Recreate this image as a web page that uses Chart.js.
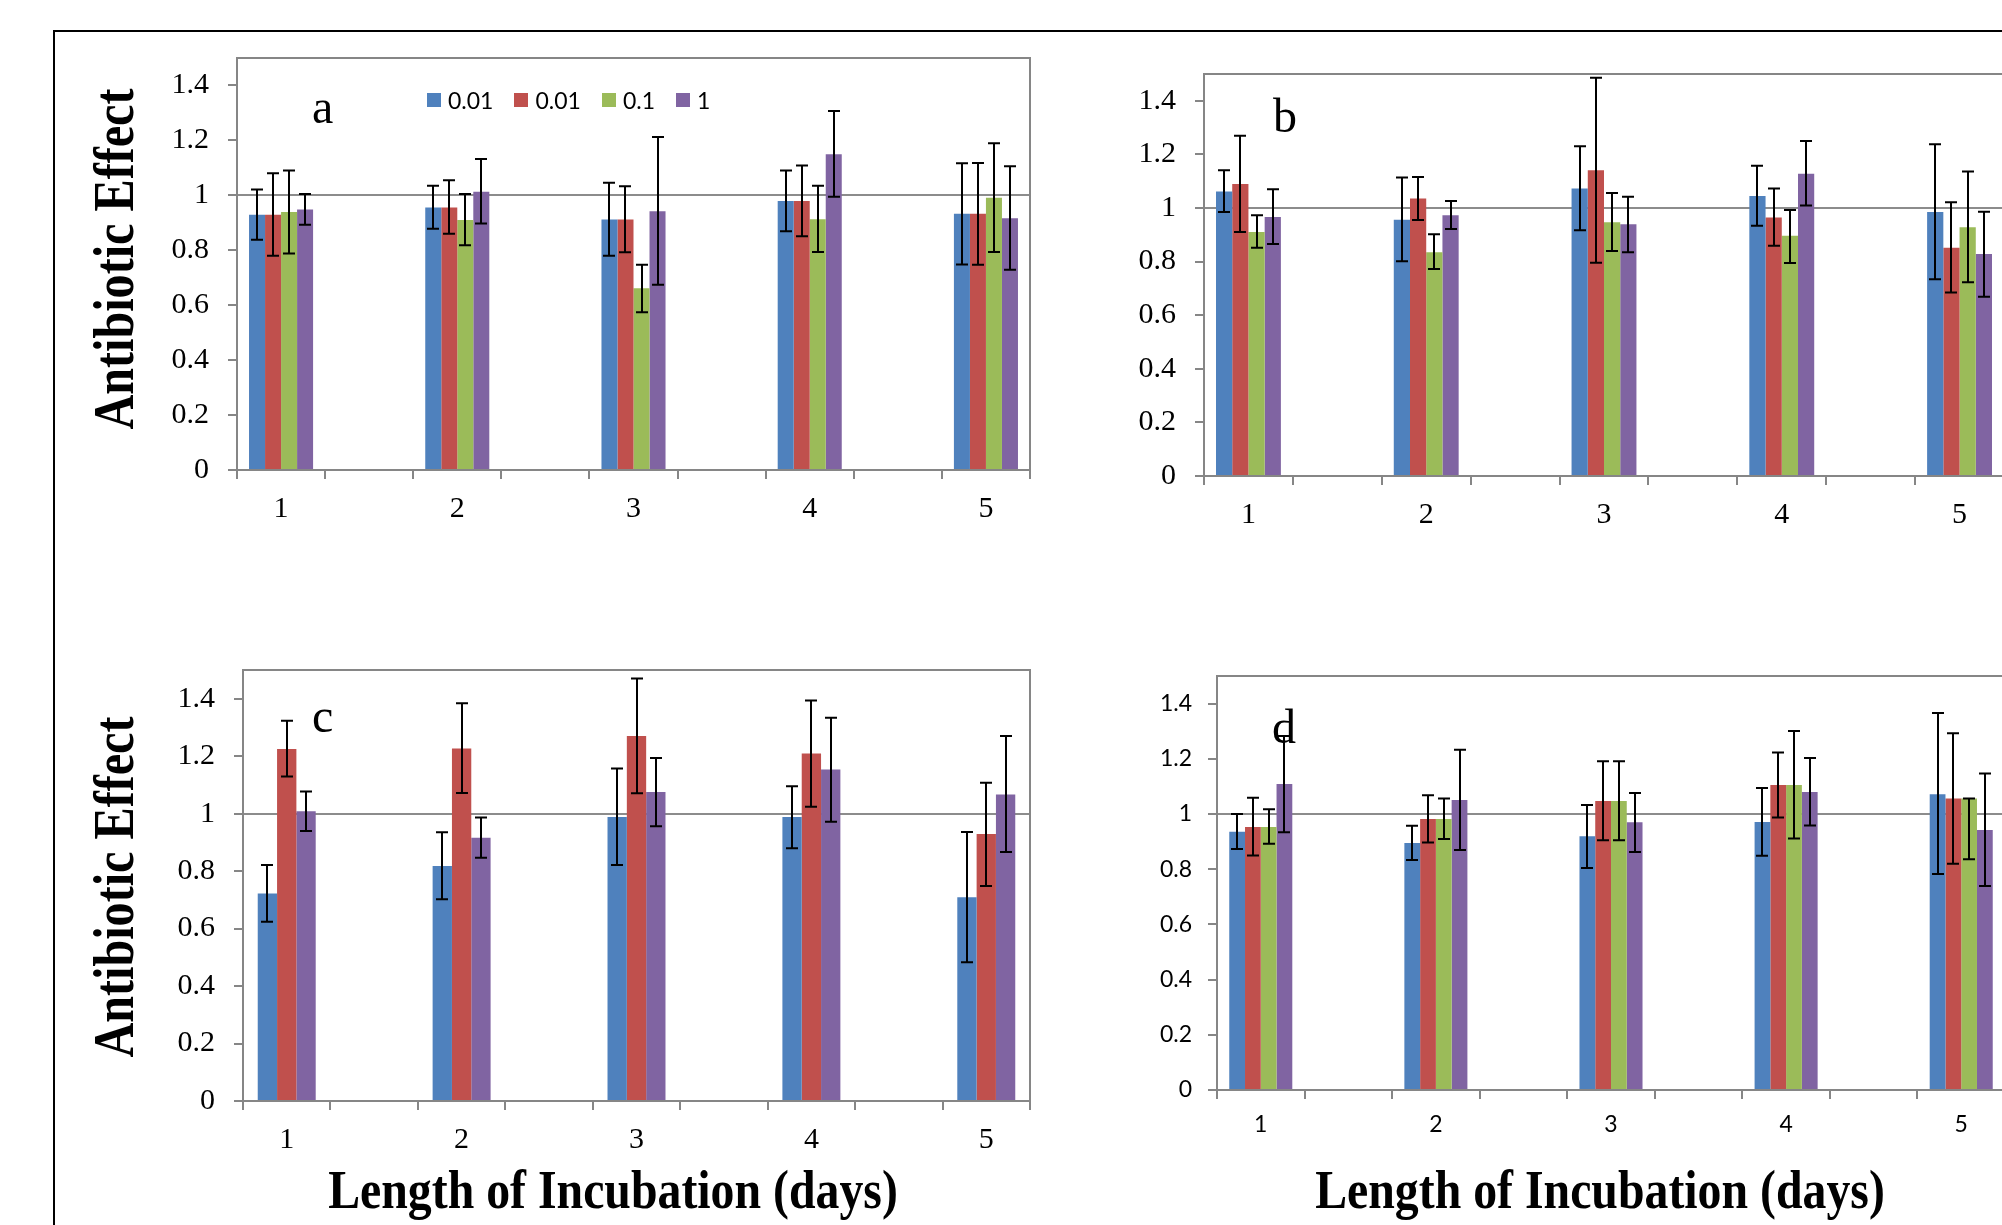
<!DOCTYPE html>
<html>
<head>
<meta charset="utf-8">
<script src="https://cdn.jsdelivr.net/npm/chart.js@4.4.1/dist/chart.umd.min.js"></script>
<style>
  html, body { margin: 0; padding: 0; background: #fff; }
  body { width: 2002px; height: 1225px; overflow: hidden; position: relative; }
  canvas { position: absolute; }
  .frame { position: absolute; left: 53px; top: 30px; width: 2200px; height: 1400px;
           border-top: 2px solid #000; border-left: 2px solid #000; }
  .title { position: absolute; font-family: "Liberation Serif", serif; font-weight: bold;
           white-space: nowrap; line-height: 1; color: #000; }
  .letter { position: absolute; font-family: "Liberation Serif", serif; font-size: 48px;
            line-height: 48px; color: #000; }
  .legend { position: absolute; left: 427px; top: 86px; display: flex; align-items: center;
            font-family: Lato, sans-serif; font-size: 23px; color: #000; }
  .legend span.box { display: inline-block; width: 14px; height: 14px; margin-right: 7px; }
  .legend span.txt { margin-right: 21px; }
</style>
</head>
<body>
<div class="frame"></div>

<!-- canvas = plot area + 80px y axis on the left, 40px top pad, 20px right pad, 60px x axis -->
<canvas id="panelA" width="893" height="512" style="left:157px;top:18px"></canvas>
<canvas id="panelB" width="900" height="502" style="left:1124px;top:34px"></canvas>
<canvas id="panelC" width="887" height="531" style="left:163px;top:630px"></canvas>
<canvas id="panelD" width="888" height="514" style="left:1137px;top:636px"></canvas>

<div class="letter" style="left:312px;top:83px">a</div>
<div class="letter" style="left:1273px;top:92px">b</div>
<div class="letter" style="left:312px;top:692px">c</div>
<div class="letter" style="left:1272px;top:703px">d</div>

<div id="legend" class="legend"></div>

<div class="title" style="font-size:56px;left:114px;top:259px;transform:translate(-50%,-50%) rotate(-90deg) scaleX(0.86)">Antibiotic Effect</div>
<div class="title" style="font-size:56px;left:114px;top:887px;transform:translate(-50%,-50%) rotate(-90deg) scaleX(0.86)">Antibiotic Effect</div>
<div class="title" style="font-size:54px;left:613px;top:1190px;transform:translate(-50%,-50%) scaleX(0.885)">Length of Incubation (days)</div>
<div class="title" style="font-size:54px;left:1600px;top:1190px;transform:translate(-50%,-50%) scaleX(0.885)">Length of Incubation (days)</div>

<script>
// categories, series and axis ticks
const days = [1, 2, 3, 4, 5];
const seriesNames = ['0.01', '0.01', '0.1', '1'];
const seriesColors = ['#4f81bd', '#c0504d', '#9bbb59', '#8064a2'];
const yTicks = [0, 0.2, 0.4, 0.6, 0.8, 1, 1.2, 1.4];

// panel a: mean, and error bar ends (low / high), one row per series
const aValues = [
  [0.929, 0.956, 0.912, 0.979, 0.933],
  [0.929, 0.956, 0.912, 0.979, 0.933],
  [0.939, 0.910, 0.662, 0.913, 0.991],
  [0.948, 1.013, 0.942, 1.150, 0.917]
];
const aLow = [
  [0.838, 0.878, 0.780, 0.869, 0.748],
  [0.780, 0.860, 0.793, 0.851, 0.747],
  [0.788, 0.818, 0.574, 0.794, 0.794],
  [0.893, 0.897, 0.674, 0.995, 0.729]
];
const aHigh = [
  [1.021, 1.035, 1.046, 1.090, 1.117],
  [1.080, 1.055, 1.033, 1.109, 1.118],
  [1.090, 1.005, 0.747, 1.035, 1.190],
  [1.005, 1.132, 1.212, 1.307, 1.106]
];

// panel b
const bValues = [
  [1.062, 0.956, 1.073, 1.045, 0.985],
  [1.090, 1.035, 1.141, 0.965, 0.852],
  [0.910, 0.835, 0.947, 0.896, 0.928],
  [0.966, 0.973, 0.939, 1.128, 0.828]
];
const bLow = [
  [0.985, 0.801, 0.917, 0.934, 0.734],
  [0.910, 0.955, 0.796, 0.859, 0.685],
  [0.852, 0.772, 0.840, 0.795, 0.723],
  [0.866, 0.922, 0.835, 1.009, 0.669]
];
const bHigh = [
  [1.141, 1.114, 1.230, 1.158, 1.238],
  [1.270, 1.116, 1.486, 1.073, 1.021],
  [0.973, 0.902, 1.056, 0.993, 1.136],
  [1.070, 1.026, 1.042, 1.250, 0.986]
];

// panel c (no 0.1 series)
const cSeries = [0, 1, 3];
const cValues = [
  [0.722, 0.818, 0.988, 0.988, 0.709],
  [1.225, 1.227, 1.270, 1.209, 0.929],
  [1.008, 0.916, 1.075, 1.154, 1.067]
];
const cLow = [
  [0.624, 0.702, 0.821, 0.880, 0.483],
  [1.129, 1.072, 1.071, 1.024, 0.748],
  [0.940, 0.847, 0.956, 0.972, 0.867]
];
const cHigh = [
  [0.821, 0.935, 1.157, 1.095, 0.936],
  [1.323, 1.384, 1.470, 1.394, 1.108],
  [1.077, 0.987, 1.194, 1.334, 1.270]
];

// panel d
const dValues = [
  [0.936, 0.895, 0.919, 0.971, 1.072],
  [0.953, 0.982, 1.047, 1.105, 1.056],
  [0.953, 0.982, 1.047, 1.105, 1.056],
  [1.109, 1.051, 0.970, 1.080, 0.942]
];
const dLow = [
  [0.873, 0.833, 0.804, 0.849, 0.783],
  [0.850, 0.897, 0.905, 0.987, 0.820],
  [0.892, 0.909, 0.905, 0.911, 0.836],
  [0.934, 0.870, 0.862, 0.958, 0.739]
];
const dHigh = [
  [1.000, 0.957, 1.033, 1.094, 1.366],
  [1.059, 1.068, 1.191, 1.223, 1.293],
  [1.017, 1.056, 1.191, 1.301, 1.056],
  [1.283, 1.233, 1.076, 1.203, 1.147]
];

const axisGray = '#868686';

// the excel sheet had an empty category between each day
function spread(arr, gap) {
  const out = [];
  arr.forEach((v, i) => { if (i) out.push(gap); out.push(v); });
  return out;
}

// grey frame round the plot area
const plotBorder = {
  id: 'plotBorder',
  afterDraw(chart) {
    const {ctx, chartArea: a} = chart;
    ctx.save();
    ctx.strokeStyle = axisGray;
    ctx.lineWidth = 2;
    ctx.strokeRect(a.left, a.top, a.right - a.left, a.bottom - a.top);
    ctx.restore();
  }
};

// error bars from the low / high arrays
const errorBars = {
  id: 'errorBars',
  afterDraw(chart) {
    const ctx = chart.ctx, y = chart.scales.y;
    ctx.save();
    ctx.strokeStyle = '#000';
    ctx.lineWidth = 2;
    chart.data.datasets.forEach((ds, i) => {
      chart.getDatasetMeta(i).data.forEach((bar, j) => {
        if (ds.data[j] == null) return;
        const x = Math.round(bar.x);
        const top = y.getPixelForValue(ds.high[j]);
        const bot = y.getPixelForValue(ds.low[j]);
        ctx.beginPath();
        ctx.moveTo(x, top); ctx.lineTo(x, bot);
        ctx.moveTo(x - 6, top); ctx.lineTo(x + 6, top);
        ctx.moveTo(x - 6, bot); ctx.lineTo(x + 6, bot);
        ctx.stroke();
      });
    });
    ctx.restore();
  }
};

function makePanel(id, series, values, low, high, opt) {
  const datasets = series.map((s, k) => ({
    label: seriesNames[s],
    data: spread(values[k], null),
    low: spread(low[k], null),
    high: spread(high[k], null),
    backgroundColor: seriesColors[s],
    borderWidth: 0,
    categoryPercentage: opt.group,
    barPercentage: 1
  }));
  const font = {family: opt.family, size: opt.size};
  return new Chart(document.getElementById(id), {
    type: 'bar',
    data: {labels: spread(days.map(String), ''), datasets: datasets},
    options: {
      responsive: false,
      animation: false,
      layout: {padding: {top: 40, right: 20, left: 0, bottom: 0}},
      plugins: {legend: {display: false}, tooltip: {enabled: false}},
      scales: {
        x: {
          offset: true,
          grid: {offset: true, drawOnChartArea: false, tickLength: 9, color: axisGray, lineWidth: 2},
          border: {color: axisGray, width: 2},
          ticks: {font: font, color: '#000', padding: opt.xPad, maxRotation: 0, autoSkip: false},
          afterFit: s => { s.height = 60; }
        },
        y: {
          min: 0,
          max: 1.5,
          z: 1,
          grid: {
            color: c => (c.tick && Math.abs(c.tick.value - 1) < 1e-6) ? '#8c8c8c' : 'rgba(0,0,0,0)',
            tickColor: axisGray,
            lineWidth: 2,
            tickLength: 9
          },
          border: {color: axisGray, width: 2},
          ticks: {font: font, color: '#000', padding: opt.yPad, callback: v => String(Math.round(v * 10) / 10)},
          afterBuildTicks: s => { s.ticks = yTicks.map(v => ({value: v})); },
          afterFit: s => { s.width = 80; }
        }
      }
    },
    plugins: [plotBorder, errorBars]
  });
}

const serif = 'Liberation Serif';
makePanel('panelA', [0, 1, 2, 3], aValues, aLow, aHigh, {group: 0.727, family: serif, size: 30, xPad: 12, yPad: 19});
makePanel('panelB', [0, 1, 2, 3], bValues, bLow, bHigh, {group: 0.73, family: serif, size: 30, xPad: 12, yPad: 19});
makePanel('panelC', cSeries, cValues, cLow, cHigh, {group: 0.663, family: serif, size: 30, xPad: 12, yPad: 19});
makePanel('panelD', [0, 1, 2, 3], dValues, dLow, dHigh, {group: 0.72, family: 'Lato', size: 23, xPad: 12, yPad: 16});

// legend of panel a
const legend = document.getElementById('legend');
seriesNames.forEach((name, i) => {
  const box = document.createElement('span');
  box.className = 'box';
  box.style.background = seriesColors[i];
  const txt = document.createElement('span');
  txt.className = 'txt';
  txt.textContent = name;
  legend.appendChild(box);
  legend.appendChild(txt);
});
</script>
</body>
</html>
